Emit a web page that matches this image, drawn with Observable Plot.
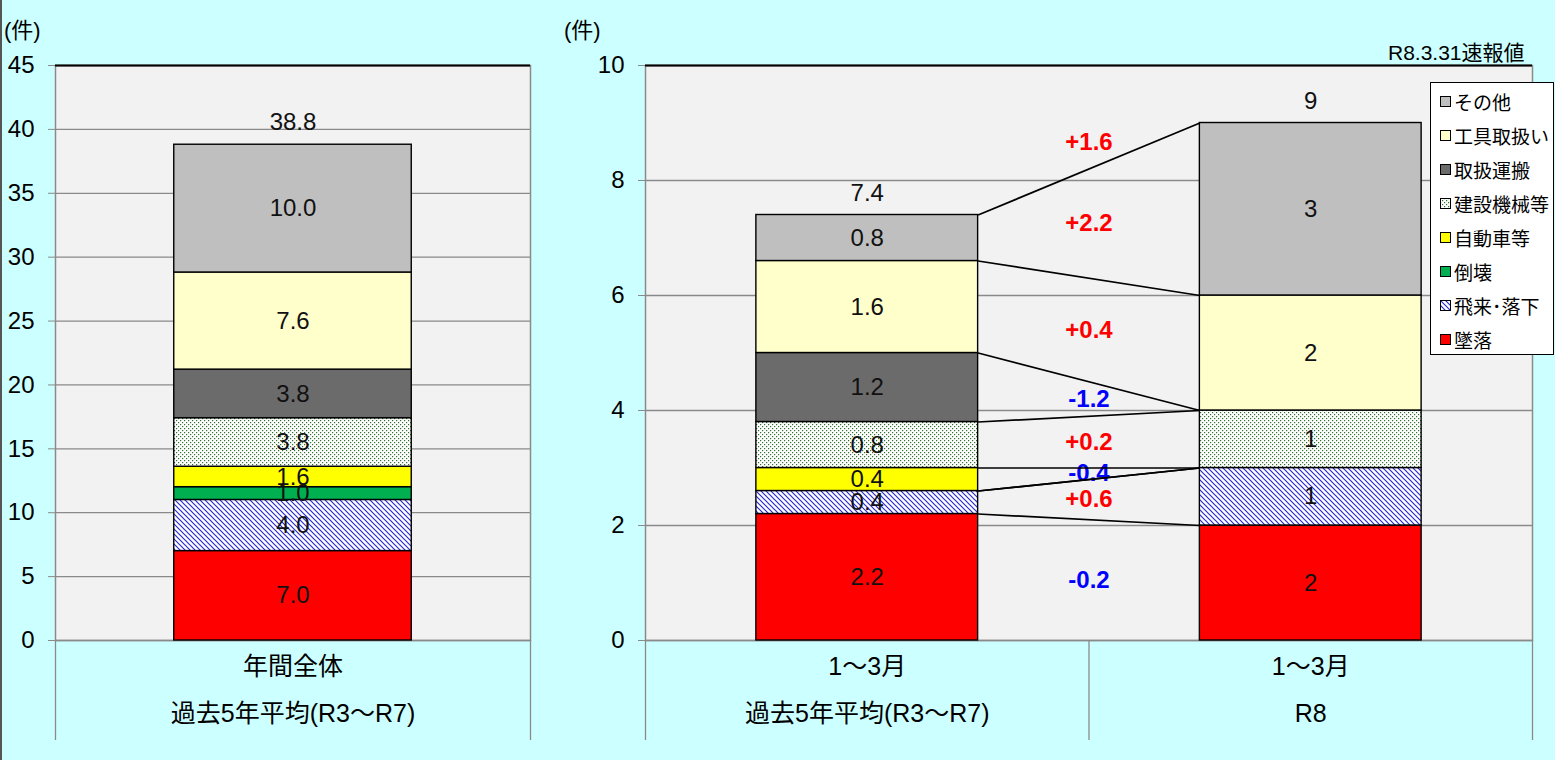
<!DOCTYPE html>
<html>
<head>
<meta charset="utf-8">
<script src="https://cdn.jsdelivr.net/npm/d3@7"></script>
<script src="https://cdn.jsdelivr.net/npm/@observablehq/plot@0.6"></script>
<style>
  html, body { margin: 0; padding: 0; background: #CCFFFF; }
  body { font-family: "Liberation Sans", "Noto Sans CJK JP", Arial, sans-serif; }
  #wrap { position: relative; width: 1555px; height: 760px; overflow: hidden; background: #CCFFFF; }
  #wrap::before { content: ""; position: absolute; left: 0; top: 0; width: 2px; height: 760px; background: #555; }
  .chart { position: absolute; top: 0; }
  .unit { position: absolute; top: 12px; font-size: 22px; color: #000; }
  #note { position: absolute; left: 1388px; top: 36px; font-size: 21px; color: #000; }
  #legend { position: absolute; left: 1430px; top: 82px; width: 124px; height: 273px; background: #fff;
            border: 1px solid #000; box-sizing: border-box; padding-top: 1px; }
  .li { height: 34px; display: flex; align-items: center; font-size: 19px; color: #000; white-space: nowrap; }
  .li svg { margin-left: 9px; margin-right: 3px; flex: none; }
</style>
</head>
<body>
<svg width="0" height="0" style="position:absolute">
  <defs>
    <pattern id="dots" width="4" height="4" patternUnits="userSpaceOnUse">
      <rect width="4" height="4" fill="#ffffff"/>
      <rect x="0" y="0" width="1.2" height="1.2" fill="#2f6f2f"/>
      <rect x="2" y="2" width="1.2" height="1.2" fill="#2f6f2f"/>
    </pattern>
    <pattern id="stripes" width="5" height="5" patternUnits="userSpaceOnUse">
      <rect width="5" height="5" fill="#ffffff"/>
      <path d="M-1,-1 L6,6 M-1,4 L1,6 M4,-1 L6,1" stroke="#2a2ad0" stroke-width="1.2"/>
    </pattern>
  </defs>
</svg>
<div id="wrap">
  <div class="unit" style="left:4px">(件)</div>
  <div class="unit" style="left:564px">(件)</div>
  <div id="note">R8.3.31速報値</div>
  <div id="left" class="chart" style="left:0px"></div>
  <div id="right" class="chart" style="left:560px"></div>
  <div id="legend"></div>
</div>
<script>
// ---- data ----
const categories = ["墜落", "飛来･落下", "倒壊", "自動車等", "建設機械等", "取扱運搬", "工具取扱い", "その他"];
const annualAvg  = [7.0, 4.0, 1.0, 1.6, 3.8, 3.8, 7.6, 10.0];   // 年間全体 過去5年平均(R3〜R7)
const q1Avg      = [2.2, 0.4, 0, 0.4, 0.8, 1.2, 1.6, 0.8];       // 1〜3月 過去5年平均(R3〜R7)
const q1R8       = [2, 1, 0, 0, 1, 0, 2, 3];                      // 1〜3月 R8
const leftRow1   = ["年間全体"];
const leftRow2   = ["過去5年平均(R3〜R7)"];
const rightRow1  = ["1〜3月", "1〜3月"];
const rightRow2  = ["過去5年平均(R3〜R7)", "R8"];
const leftTicks  = [0, 5, 10, 15, 20, 25, 30, 35, 40, 45];
const rightTicks = [0, 2, 4, 6, 8, 10];

// ---- styles ----
const colors = ["#FF0000", "url(#stripes)", "#00B050", "#FFFF00", "url(#dots)", "#6B6B6B", "#FFFFCC", "#BFBFBF"];
const BAR_HALF = 0.25;
const FONT = '"Liberation Sans", "Noto Sans CJK JP", Arial, sans-serif';
const GRID = "#8a8a8a";
const f1 = v => v.toFixed(1);
const f0 = v => String(Math.round(v));
const fDelta = v => (v > 0 ? "+" : "") + v.toFixed(1);   // plain hyphen minus

function stackRows(values, idx, fmt) {
  let acc = 0;
  return values.map((v, k) => {
    const r = {i: idx, cat: categories[k], value: v, y1: acc, y2: acc + v, label: fmt(v)};
    acc += v;
    return r;
  });
}

function panel({width, marginLeft, marginRight, ymax, ticks, groups, fmts, row1, row2, extra = []}) {
  const rows = groups.flat().filter(d => d.value > 0);
  const totals = groups.map((g, j) => {
    const t = d3.sum(g, d => d.value);
    return {i: g[0].i, total: t, label: fmts[j](t)};
  });
  const n = row1.length;
  return Plot.plot({
    width, height: 760, marginLeft, marginRight, marginTop: 65, marginBottom: 120,
    x: {domain: [0, n], axis: null},
    y: {domain: [0, ymax], axis: null},
    color: {domain: categories, range: colors},
    style: {background: "transparent", fontFamily: FONT, fontSize: "24px", color: "black", overflow: "visible"},
    marks: [
      Plot.frame({fill: "#F2F2F2", stroke: GRID, strokeWidth: 1.5}),
      Plot.ruleY(ticks, {stroke: GRID, strokeWidth: 1.3}),
      Plot.ruleY([ymax], {stroke: "#000", strokeWidth: 2}),
      Plot.rect(rows, {
        x1: d => d.i + 0.5 - BAR_HALF, x2: d => d.i + 0.5 + BAR_HALF,
        y1: "y1", y2: "y2", fill: "cat", stroke: "#000", strokeWidth: 1.4
      }),
      Plot.text(rows, {
        x: d => d.i + 0.5, y: d => (d.y1 + d.y2) / 2, text: "label", fill: "#111", fontSize: 24
      }),
      Plot.text(totals, {
        x: d => d.i + 0.5, y: "total", text: "label", dy: -22, fill: "#111", fontSize: 24
      }),
      ...extra,
      Plot.axisY({ticks, tickSize: 7, tickPadding: 14, label: null, stroke: GRID, fill: "#000", fontSize: 24}),
      Plot.ruleX(d3.range(n + 1), {insetTop: 575, insetBottom: -100, stroke: GRID, strokeWidth: 1.3}),
      Plot.text(row1, {x: (d, k) => k + 0.5, frameAnchor: "bottom", dy: 34, fill: "#000", fontSize: 25}),
      Plot.text(row2, {x: (d, k) => k + 0.5, frameAnchor: "bottom", dy: 81, fill: "#000", fontSize: 25})
    ]
  });
}

// ---- left panel ----
const gL = stackRows(annualAvg, 0, f1);
document.getElementById("left").append(panel({
  width: 560, marginLeft: 55, marginRight: 30, ymax: 45, ticks: leftTicks,
  groups: [gL], fmts: [f1], row1: leftRow1, row2: leftRow2
}));

// ---- right panel ----
const gA = stackRows(q1Avg, 0, f1);
const gB = stackRows(q1R8, 1, f0);
const links = categories.map((c, k) => ({y1: gA[k].y2, y2: gB[k].y2}));
const deltas = categories.map((c, k) => ({
  d: Math.round((q1R8[k] - q1Avg[k]) * 10) / 10,
  y: ((gA[k].y1 + gA[k].y2) / 2 + (gB[k].y1 + gB[k].y2) / 2) / 2
})).filter(r => r.d !== 0);
const totA = d3.sum(q1Avg), totB = d3.sum(q1R8);
const totalDelta = [{d: Math.round((totB - totA) * 10) / 10, y: (totA + totB) / 2}];
const deltaStyle = {
  x: 1, y: "y", text: d => fDelta(d.d),
  fill: d => d.d > 0 ? "#FF0000" : "#0000FF", fontWeight: "bold", fontSize: 24
};
document.getElementById("right").append(panel({
  width: 995, marginLeft: 85, marginRight: 23, ymax: 10, ticks: rightTicks,
  groups: [gA, gB], fmts: [f1, f0], row1: rightRow1, row2: rightRow2,
  extra: [
    Plot.text(deltas, deltaStyle),
    Plot.text(totalDelta, {...deltaStyle, dy: -27}),
    Plot.link(links, {x1: 0.5 + BAR_HALF, x2: 1.5 - BAR_HALF, y1: "y1", y2: "y2", stroke: "#000", strokeWidth: 1.7})
  ]
}));

// ---- legend ----
const legend = document.getElementById("legend");
categories.slice().reverse().forEach(c => {
  const k = categories.indexOf(c);
  const div = document.createElement("div");
  div.className = "li";
  div.innerHTML = `<svg width="11" height="11"><rect x="0.5" y="0.5" width="10" height="10" fill="${colors[k]}" stroke="#000" stroke-width="1"/></svg><span>${c}</span>`;
  legend.append(div);
});
</script>
</body>
</html>
